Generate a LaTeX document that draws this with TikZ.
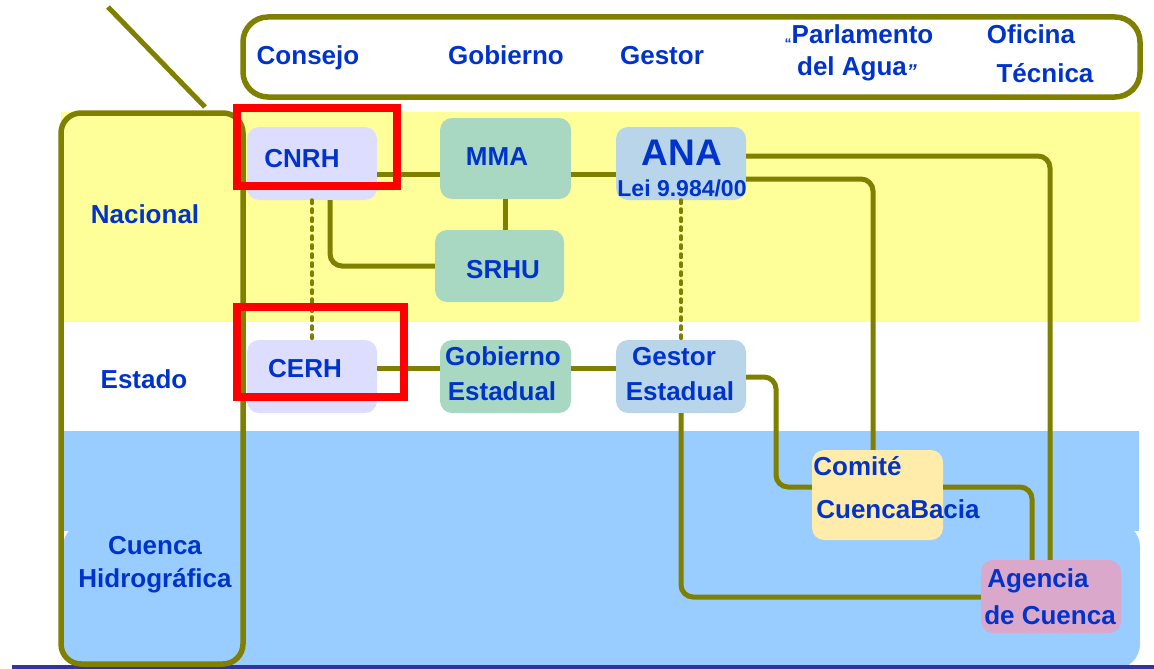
\documentclass[tikz,border=0pt]{standalone}
\usepackage{fontspec}
\setmainfont{Liberation Sans}
\definecolor{olv}{HTML}{808000}
\definecolor{tblue}{HTML}{0033CC}
\definecolor{bandyel}{HTML}{FFFF99}
\definecolor{bandblue}{HTML}{99CCFF}
\definecolor{lav}{HTML}{DDDDFF}
\definecolor{mint}{HTML}{A8D8C2}
\definecolor{lblue}{HTML}{B8D5EA}
\definecolor{cream}{HTML}{FFEBAA}
\definecolor{pinkc}{HTML}{DAA8CA}
\definecolor{lineblue}{HTML}{333399}
\tikzset{
  txt/.style={font=\fontsize{26}{30}\selectfont\bfseries, text=tblue, inner sep=0pt, anchor=base},
  boxn/.style={rounded corners=12pt, inner sep=0pt, draw=none},
  conn/.style={draw=olv, line width=5pt, rounded corners=12pt},
  dots/.style={draw=olv, line width=4pt, line cap=round, dash pattern=on 3pt off 6pt},
  redframe/.style={draw=red, line width=8pt},
  frame/.style={draw=olv, line width=5.5pt},
}
\begin{document}
\begin{tikzpicture}[x=1pt,y=-1pt]
\useasboundingbox (0,0) rectangle (1154,669);
% bands
\fill[bandyel] (61,112) rectangle (1139,322);
\fill[bandblue] (61,431) rectangle (1139,531);
\fill[bandblue, rounded corners=25pt] (63,522) rectangle (1140,669);
\draw[draw=lineblue, line width=4pt] (12,667) -- (1154,667);
% frames
\draw[frame, rounded corners=20pt] (61,113) rectangle (243,664);
\draw[frame, rounded corners=25pt] (243,17) rectangle (1140,97);
\draw[olv, line width=5pt] (108,7) -- (205,107);
% header texts
\node[txt] (hcons) at (308,64) {Consejo};
\node[txt] (hgob) at (506,64) {Gobierno};
\node[txt] (hgest) at (662,64) {Gestor};
\node[txt] (hparl) at (859,44) {\raisebox{-5pt}{\fontsize{14}{14}\selectfont“}Parlamento};
\node[txt] (hagua) at (857,75) {del Agua\raisebox{-3pt}{\fontsize{20}{20}\selectfont\itshape”}};
\node[txt] (hofi) at (1031,44) {Oficina};
\node[txt] (htec) at (1045,83) {Técnica};
% level labels
\node[txt] (lnac) at (145,223) {Nacional};
\node[txt] (lest) at (144,388) {Estado};
\node[txt] (lcue1) at (155,554) {Cuenca};
\node[txt] (lcue2) at (155,587) {Hidrográfica};
% boxes
\node[boxn, fill=lav, minimum width=130pt, minimum height=73pt] (cnrh) at (312,163.5) {};
\node[boxn, fill=mint, minimum width=131pt, minimum height=81pt] (mma) at (505.5,158.5) {};
\node[boxn, fill=mint, minimum width=129pt, minimum height=72pt] (srhu) at (499.5,266) {};
\node[boxn, fill=lblue, minimum width=130pt, minimum height=73pt] (ana) at (681,163.5) {};
\node[boxn, fill=lav, minimum width=130pt, minimum height=73pt] (cerh) at (312,376.5) {};
\node[boxn, fill=mint, minimum width=131pt, minimum height=73pt] (gobe) at (505.5,376.5) {};
\node[boxn, fill=lblue, minimum width=130pt, minimum height=73pt] (gest) at (681,376.5) {};
\node[boxn, fill=cream, minimum width=131pt, minimum height=90pt] (com) at (877.5,495) {};
\node[boxn, fill=pinkc, minimum width=140pt, minimum height=73pt] (agen) at (1051,596.5) {};
% box texts
\node[txt] (tcnrh) at (302,167) {CNRH};
\node[txt] (tmma) at (497,165) {MMA};
\node[txt] (tsrhu) at (503,278) {SRHU};
\node[txt, font=\fontsize{37}{40}\selectfont\bfseries] (tana) at (682,165) {ANA};
\node[txt, font=\fontsize{23}{26}\selectfont\bfseries] (tlei) at (682,196) {Lei 9.984/00};
\node[txt] (tcerh) at (305,377) {CERH};
\node[txt] (tgob1) at (503,365) {Gobierno};
\node[txt] (tgob2) at (502,400) {Estadual};
\node[txt] (tgest1) at (674,365) {Gestor};
\node[txt] (tgest2) at (680,400) {Estadual};
\node[txt] (tcom1) at (857.5,475) {Comité};
\node[txt] (tcom2) at (898,518) {CuencaBacia};
\node[txt] (tagen1) at (1038,587) {Agencia};
\node[txt] (tagen2) at (1050,624) {de Cuenca};
% connectors
\draw[conn] (cnrh.east |- 0,174) -- (mma.west |- 0,174);
\draw[conn] (mma.east |- 0,174) -- (ana.west |- 0,174);
\draw[conn] (mma.south) -- (mma.south |- srhu.north);
\draw[conn] (cnrh.south -| 330,0) -- (330,266) -- (srhu.west |- 0,266);
\draw[dots] (cnrh.south) -- (cerh.north);
\draw[dots] (ana.south) -- (gest.north);
\draw[conn] (ana.east |- 0,156) -- (1050,156) -- (agen.north -| 1050,0);
\draw[conn] (ana.east |- 0,179) -- (873,179) -- (com.north -| 873,0);
\draw[conn] (cerh.east |- 0,368) -- (gobe.west |- 0,368);
\draw[conn] (gobe.east |- 0,368) -- (gest.west |- 0,368);
\draw[conn] (gest.east |- 0,377) -- (776,377) -- (776,487) -- (com.west |- 0,487);
\draw[conn] (gest.south) -- (681,597) -- (agen.west |- 0,597);
\draw[conn] (com.east |- 0,487) -- (1032,487) -- (agen.north -| 1032,0);
% red frames
\draw[redframe] (237,108) rectangle (397,185.5);
\draw[redframe] (237,307) rectangle (404,397);
\end{tikzpicture}
\end{document}
